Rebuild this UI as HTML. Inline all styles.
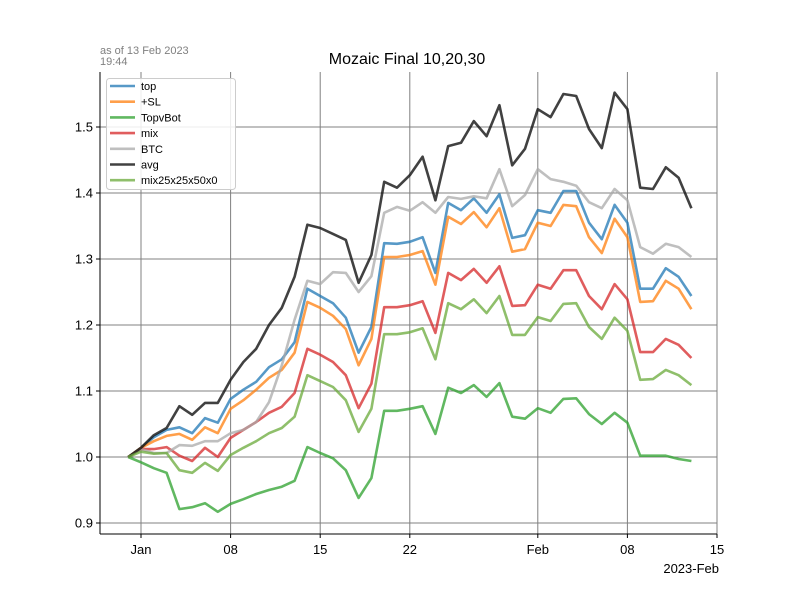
<!DOCTYPE html>
<html><head><meta charset="utf-8"><style>
body{margin:0;background:#fff;}
svg{display:block;font-family:"Liberation Sans","DejaVu Sans",sans-serif;}
</style></head><body>
<svg id="chart" width="800" height="600" viewBox="0 0 800 600">
<rect x="0" y="0" width="800" height="600" fill="#fff"/>
<g id="grid"></g>
<g id="lines"></g>
<g id="axes"></g>
<text x="100" y="54" font-size="11" fill="#808080">as of 13 Feb 2023</text>
<text x="100" y="65" font-size="11" fill="#808080">19:44</text>
<text x="407" y="64" font-size="16" text-anchor="middle" fill="#000">Mozaic Final 10,20,30</text>
<text x="719" y="573" font-size="13" text-anchor="end" fill="#000">2023-Feb</text>
<g id="legend"></g>
</svg>
<script>
const startDate = "2022-12-31";
const seriesNames = ["top","+SL","TopvBot","mix","BTC","avg","mix25x25x50x0"];
const topVals = [1.000,1.014,1.030,1.041,1.045,1.036,1.059,1.052,1.088,1.102,1.114,1.136,1.148,1.174,1.255,1.244,1.233,1.211,1.158,1.197,1.324,1.323,1.326,1.333,1.279,1.385,1.374,1.392,1.370,1.398,1.332,1.336,1.374,1.370,1.403,1.403,1.355,1.330,1.382,1.355,1.255,1.255,1.286,1.273,1.244];
const slVals = [1.000,1.014,1.024,1.032,1.035,1.026,1.045,1.036,1.073,1.086,1.102,1.120,1.132,1.158,1.235,1.226,1.214,1.194,1.139,1.179,1.303,1.303,1.306,1.312,1.261,1.364,1.353,1.371,1.348,1.377,1.311,1.315,1.355,1.350,1.382,1.380,1.333,1.309,1.361,1.333,1.235,1.236,1.267,1.255,1.224];
const topvbotVals = [1.000,0.992,0.983,0.976,0.921,0.924,0.930,0.917,0.929,0.936,0.944,0.950,0.955,0.964,1.015,1.006,0.998,0.980,0.938,0.968,1.070,1.070,1.073,1.077,1.035,1.105,1.097,1.109,1.091,1.112,1.061,1.058,1.074,1.067,1.088,1.089,1.065,1.050,1.067,1.052,1.002,1.002,1.002,0.997,0.994];
const mixVals = [1.000,1.012,1.012,1.015,1.002,0.994,1.014,1.000,1.029,1.041,1.053,1.067,1.076,1.097,1.164,1.155,1.144,1.124,1.074,1.111,1.227,1.227,1.230,1.236,1.188,1.279,1.268,1.285,1.264,1.289,1.229,1.230,1.261,1.255,1.283,1.283,1.244,1.224,1.262,1.239,1.159,1.159,1.179,1.170,1.150];
const btcVals = [1.000,1.012,1.006,1.006,1.018,1.017,1.024,1.024,1.036,1.041,1.053,1.083,1.139,1.208,1.267,1.262,1.280,1.279,1.250,1.274,1.370,1.379,1.373,1.386,1.370,1.394,1.391,1.395,1.392,1.436,1.380,1.397,1.436,1.421,1.417,1.411,1.386,1.377,1.406,1.389,1.318,1.308,1.323,1.318,1.303];
const avgVals = [1.000,1.014,1.033,1.044,1.077,1.064,1.082,1.082,1.117,1.144,1.164,1.200,1.226,1.273,1.352,1.347,1.338,1.329,1.264,1.306,1.417,1.408,1.427,1.455,1.389,1.471,1.476,1.509,1.486,1.533,1.442,1.467,1.527,1.515,1.550,1.547,1.497,1.468,1.552,1.527,1.408,1.406,1.439,1.423,1.377];
const mix25Vals = [1.000,1.008,1.005,1.006,0.980,0.976,0.991,0.979,1.003,1.014,1.024,1.036,1.044,1.061,1.124,1.115,1.106,1.086,1.038,1.073,1.186,1.186,1.189,1.195,1.148,1.233,1.224,1.239,1.218,1.244,1.185,1.185,1.212,1.206,1.232,1.233,1.197,1.179,1.211,1.191,1.117,1.118,1.132,1.124,1.109];
const yTicks = [0.9,1.0,1.1,1.2,1.3,1.4,1.5];
const xTickLabels = ["Jan","08","15","22","Feb","08","15"];
const xTickDays = [0,7,14,21,31,38,45];

const NS="http://www.w3.org/2000/svg";
const L=100,R=717,T=72,B=534;
function xScale(day){return 141+day*12.8;}
function yScale(v){return 457-(v-1)*660;}
function mk(tag,attrs,parent){const e=document.createElementNS(NS,tag);for(const k in attrs)e.setAttribute(k,attrs[k]);parent.appendChild(e);return e;}
const grid=document.getElementById('grid'),axes=document.getElementById('axes'),lines=document.getElementById('lines'),legend=document.getElementById('legend');

yTicks.forEach(v=>{
  const y=yScale(v);
  const g=mk('line',{x1:L,x2:R,y1:y,y2:y,stroke:'#808080','stroke-width':1},grid);
  
  
  const tk=mk('line',{x1:L-4,x2:L,y1:y,y2:y,stroke:'#000'},axes);
  
  
  const t=mk('text',{x:L-7,y:y+4.5,'font-size':13,'text-anchor':'end',fill:'#000'},axes);
  t.textContent=v.toFixed(1);
  
  
});
xTickDays.forEach((d,i)=>{
  const x=xScale(d);
  const g=mk('line',{x1:x,x2:x,y1:T,y2:B,stroke:'#808080','stroke-width':1},grid);
  
  
  const tk=mk('line',{x1:x,x2:x,y1:B,y2:B+4,stroke:'#000'},axes);
  
  
  const t=mk('text',{x:x,y:B+20,'font-size':13,'text-anchor':'middle',fill:'#000'},axes);
  t.textContent=xTickLabels[i];
  
  
});
const sl=mk('line',{x1:L,x2:L,y1:T,y2:B,stroke:'#000','stroke-width':1},axes);


const sb=mk('line',{x1:L,x2:R,y1:B,y2:B,stroke:'#000','stroke-width':1},axes);



const all=[topVals,slVals,topvbotVals,mixVals,btcVals,avgVals,mix25Vals];
const colors=['#1f77b4','#ff7f0e','#2ca02c','#d62728','#aaaaaa','#111111','#6aaa3a'];
const opac=[0.75,0.75,0.75,0.75,0.75,0.8,0.75];
const t0=new Date(startDate+"T00:00:00Z"),jan1=new Date("2023-01-01T00:00:00Z");
const off=(t0-jan1)/86400000;
all.forEach((vals,si)=>{
  const pts=vals.map((v,i)=>xScale(off+i).toFixed(1)+','+yScale(v).toFixed(1)).join(' ');
  const p=mk('polyline',{points:pts,fill:'none',stroke:colors[si],'stroke-opacity':opac[si],'stroke-width':2.6,'stroke-linejoin':'round'},lines);
  
  
});

const box=mk('rect',{x:106.5,y:78.5,width:129,height:111,rx:3,fill:'#fff','fill-opacity':0.85,stroke:'#ccc'},legend);


seriesNames.forEach((n,i)=>{
  const y=86+i*15.7;
  const ln=mk('line',{x1:110,x2:135,y1:y,y2:y,stroke:colors[i],'stroke-opacity':opac[i],'stroke-width':2.6},legend);
  
  
  const t=mk('text',{x:141,y:y+4,'font-size':11,fill:'#000'},legend);
  t.textContent=n;
  
  
});
</script>
</body></html>
